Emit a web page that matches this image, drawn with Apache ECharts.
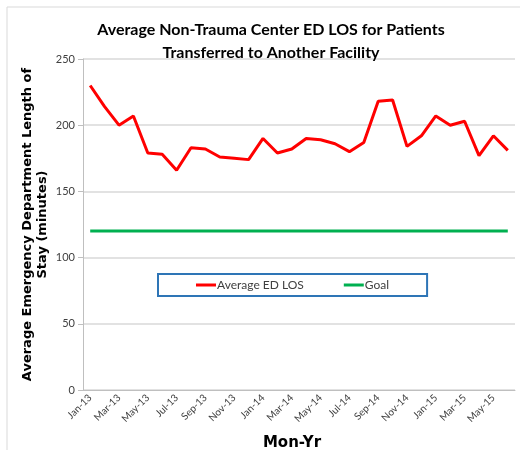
<!DOCTYPE html>
<html>
<head>
<meta charset="utf-8">
<script src="https://cdn.jsdelivr.net/npm/echarts@6/dist/echarts.min.js"></script>
<style>
  html, body { margin: 0; padding: 0; background: #fff; }
  #main { width: 520px; height: 450px; }
</style>
</head>
<body>
<div id="main"></div>
<script>
var months = ['Jan-13', 'Feb-13', 'Mar-13', 'Apr-13', 'May-13', 'Jun-13', 'Jul-13', 'Aug-13', 'Sep-13', 'Oct-13', 'Nov-13', 'Dec-13',
  'Jan-14', 'Feb-14', 'Mar-14', 'Apr-14', 'May-14', 'Jun-14', 'Jul-14', 'Aug-14', 'Sep-14', 'Oct-14', 'Nov-14', 'Dec-14',
  'Jan-15', 'Feb-15', 'Mar-15', 'Apr-15', 'May-15', 'Jun-15'];
var avgLos = [230, 214, 200, 207, 179, 178, 166, 183, 182, 176, 175, 174,
  190, 179, 182, 190, 189, 186, 180, 187, 218, 219, 184, 192,
  207, 200, 203, 177, 192, 181];
var goal = [120, 120, 120, 120, 120, 120, 120, 120, 120, 120, 120, 120,
  120, 120, 120, 120, 120, 120, 120, 120, 120, 120, 120, 120,
  120, 120, 120, 120, 120, 120];
var yTicks = [0, 50, 100, 150, 200, 250];

var chart = echarts.init(document.getElementById('main'), null, { renderer: 'canvas' });

var font = 'Lato, "Open Sans", sans-serif';
var boldFont = '"DejaVu Sans", Verdana, sans-serif';

var option = {
  backgroundColor: '#ffffff',
  animation: false,
  graphic: [{
    type: 'rect',
    shape: { x: 7, y: 7, width: 530, height: 460 },
    style: { fill: 'none', stroke: '#d9d9d9', lineWidth: 1 },
    z: -1
  }],
  title: {
    text: 'Average Non-Trauma Center ED LOS for Patients\nTransferred to Another Facility',
    left: 266,
    textAlign: 'center',
    top: 13,
    textStyle: {
      fontFamily: font,
      fontSize: 16,
      fontWeight: 'bold',
      color: '#000',
      lineHeight: 23
    }
  },
  legend: {
    left: 158,
    top: 274,
    padding: [5, 38, 5, 38],
    itemGap: 40,
    itemWidth: 20,
    itemHeight: 3,
    icon: 'rect',
    backgroundColor: '#fff',
    borderColor: '#2E75B6',
    borderWidth: 2,
    textStyle: { fontFamily: font, fontSize: 12, color: '#404040', padding: [0, 0, 0, -4] },
    data: ['Average ED LOS', 'Goal']
  },
  grid: {
    left: 83,
    right: 5,
    top: 59,
    bottom: 60,
    containLabel: false,
    outerBoundsMode: 'none'
  },
  xAxis: {
    type: 'category',
    data: months,
    boundaryGap: true,
    name: 'Mon-Yr',
    nameLocation: 'middle',
    nameGap: 46,
    nameMoveOverlap: false,
    nameTextStyle: { fontFamily: boldFont, fontSize: 15, fontWeight: 'bold', color: '#000', padding: [0, 14, 0, 0] },
    axisLine: { lineStyle: { color: '#bfbfbf' } },
    axisTick: { interval: 1, length: 5, lineStyle: { color: '#bfbfbf' } },
    axisLabel: {
      interval: 1,
      rotate: 45,
      fontFamily: font,
      fontSize: 10,
      color: '#404040',
      margin: 6
    },
    splitLine: { show: false }
  },
  yAxis: {
    type: 'value',
    min: yTicks[0],
    max: yTicks[yTicks.length - 1],
    interval: 50,
    name: 'Average Emergency Department Length of\nStay (minutes)',
    nameLocation: 'middle',
    nameGap: 33,
    nameMoveOverlap: false,
    nameTextStyle: { fontFamily: boldFont, fontSize: 13, fontWeight: 'bold', color: '#000', lineHeight: 15 },
    axisLine: { show: true, lineStyle: { color: '#bfbfbf' } },
    axisTick: { show: true, length: 5, lineStyle: { color: '#bfbfbf' } },
    axisLabel: { fontFamily: font, fontSize: 11, color: '#404040', margin: 8 },
    splitLine: { lineStyle: { color: '#d9d9d9', width: 1.5 } }
  },
  series: [
    {
      name: 'Average ED LOS',
      type: 'line',
      data: avgLos,
      symbol: 'none',
      lineStyle: { color: '#ff0000', width: 3 },
      itemStyle: { color: '#ff0000' }
    },
    {
      name: 'Goal',
      type: 'line',
      data: goal,
      symbol: 'none',
      lineStyle: { color: '#00b050', width: 3 },
      itemStyle: { color: '#00b050' }
    }
  ]
};

chart.setOption(option);
</script>
</body>
</html>
